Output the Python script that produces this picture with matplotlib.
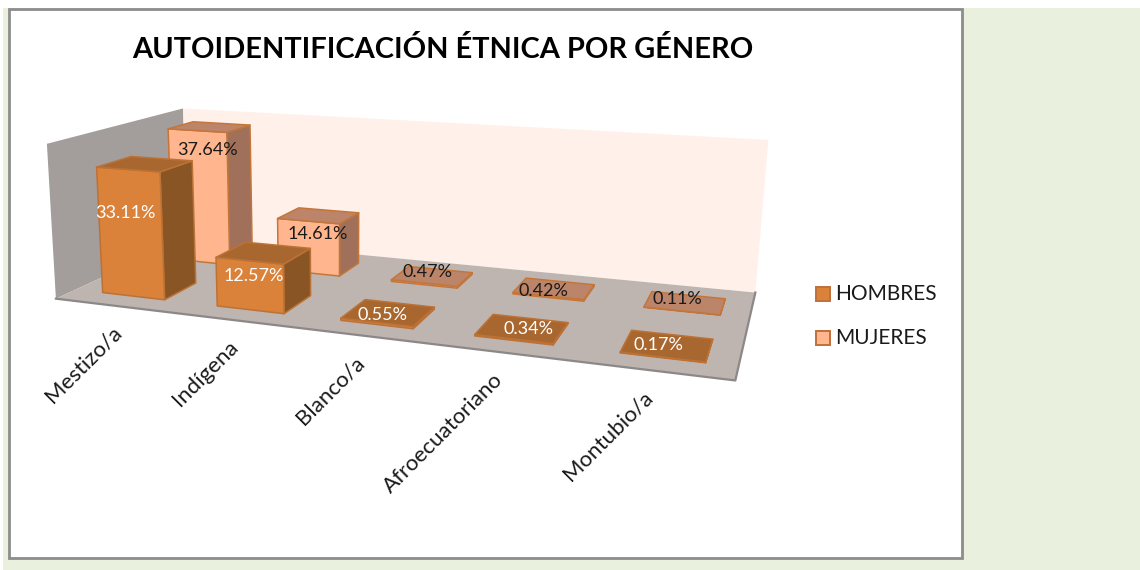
import numpy as np
import matplotlib
matplotlib.use('Agg')
import matplotlib.pyplot as plt
from matplotlib.patches import Polygon, Rectangle

categories = ['Mestizo/a', 'Indígena', 'Blanco/a', 'Afroecuatoriano', 'Montubio/a']
hombres = [33.11, 12.57, 0.55, 0.34, 0.17]
mujeres = [37.64, 14.61, 0.47, 0.42, 0.11]
axis_max = 40.0

# nudges for the value labels, in pixels
hombres_off = [(-1, -5), (8, -2), (10, -5), (19, -7), (0, -9)]
mujeres_off = [(20, -1), (18, -8), (11, -13), (2, -7), (1, -14)]

plt.rcParams['font.family'] = ['Lato', 'DejaVu Sans']

# box corners (x, depth, height) -> where they land in the picture
box = np.array([[0, 0, 0], [1, 0, 0], [1, 1, 0], [0, 1, 0], [0, 0, 1], [0, 1, 1], [1, 1, 1]], float)
pix = np.array([[58, 299], [735, 381], [756, 292], [185, 238], [45, 143], [185, 109], [768, 140]], float)

rows = []
for (X, Y, Z), (u, v) in zip(box, pix):
    rows.append([X, Y, Z, 1, 0, 0, 0, 0, -u * X, -u * Y, -u * Z, -u])
    rows.append([0, 0, 0, 0, X, Y, Z, 1, -v * X, -v * Y, -v * Z, -v])
P = np.linalg.svd(np.array(rows))[2][-1].reshape(3, 4)


def project(x, y, z):
    p = P @ np.array([x, y, z, 1.0])
    return p[:2] / p[2]


fig = plt.figure(figsize=(11.4, 5.7), dpi=100, facecolor='white')
ax = fig.add_axes([0, 0, 1, 1])
ax.set_xlim(0, 1140)
ax.set_ylim(570, 0)
ax.axis('off')

# page and chart frame
ax.add_patch(Rectangle((3, 8), 1137, 562, fc='#E9F0DD', ec='none'))
ax.add_patch(Rectangle((9, 9), 953, 549, fc='white', ec='#8C8C8C', lw=2))


def face(pts, fc, ec='none', lw=0, z=1):
    ax.add_patch(Polygon([project(*p) for p in pts], closed=True, fc=fc, ec=ec, lw=lw, zorder=z, joinstyle='round'))


# walls and floor
face([(0, 0, 0), (0, 1, 0), (0, 1, 1), (0, 0, 1)], '#A39D9B')
face([(0, 1, 0), (1, 1, 0), (1, 1, 1), (0, 1, 1)], '#FFF0EA')
face([(0, 0, 0), (1, 0, 0), (1, 1, 0), (0, 1, 0)], '#BEB5B1')
rim = np.array([project(0, 0, 0), project(1, 0, 0), project(1, 1, 0)])
ax.plot(rim[:, 0], rim[:, 1], color='#8C8888', lw=1.6, zorder=1.5)


def bar(i, value, y0, y1, front, side, top, edge, zo):
    x0 = (i + 0.245) / 5
    x1 = (i + 0.795) / 5
    h = value / axis_max
    face([(x1, y0, 0), (x1, y1, 0), (x1, y1, h), (x1, y0, h)], side, edge, 1.1, zo)
    face([(x0, y0, 0), (x1, y0, 0), (x1, y0, h), (x0, y0, h)], front, edge, 1.1, zo)
    face([(x0, y0, h), (x1, y0, h), (x1, y1, h), (x0, y1, h)], top, edge, 1.1, zo)


for i, v in enumerate(mujeres):
    bar(i, v, 0.66, 0.87, '#FFB58E', '#A0705A', '#BC8468', '#C4763A', 2 + i * 0.1)
for i, v in enumerate(hombres):
    bar(i, v, 0.13, 0.37, '#DA813A', '#8A5525', '#A96730', '#BC7236', 3 + i * 0.1)

# value labels
for i, v in enumerate(mujeres):
    px = project((i + 0.5) / 5, 0.6, v / axis_max)
    ax.text(px[0] + mujeres_off[i][0], px[1] + (18 if v > 10 else -2) + mujeres_off[i][1], f'{v:.2f}%',
            color='#1A1A1A', fontsize=13, ha='center', va='center', zorder=5)
for i, v in enumerate(hombres):
    px = project((i + 0.5) / 5, 0.12, v / axis_max * 0.6)
    ax.text(px[0] + hombres_off[i][0], px[1] - (3 if v > 10 else 4) + hombres_off[i][1], f'{v:.2f}%',
            color='white', fontsize=13, ha='center', va='center', zorder=5)

# category labels
for i, c in enumerate(categories):
    px = project((i + 0.5) / 5, 0, 0)
    ax.text(px[0] + 6 - 2.5 * i, px[1] + 24, c, rotation=45, rotation_mode='anchor', ha='right', va='center',
            fontsize=16, color='#1A1A1A')

ax.text(443, 49, 'AUTOIDENTIFICACIÓN ÉTNICA POR GÉNERO', fontsize=20.9, fontweight='bold', color='black',
        ha='center', va='center')

# legend
for yy, col, name in [(293, '#DA813A', 'HOMBRES'), (337, '#FFB58E', 'MUJERES')]:
    ax.add_patch(Rectangle((816, yy - 6.5), 14, 14, fc=col, ec='#C0703A', lw=1.4))
    ax.text(835, yy + 0.5, name, fontsize=15, color='#1A1A1A', ha='left', va='center')

fig.savefig('out.png', dpi=100)
